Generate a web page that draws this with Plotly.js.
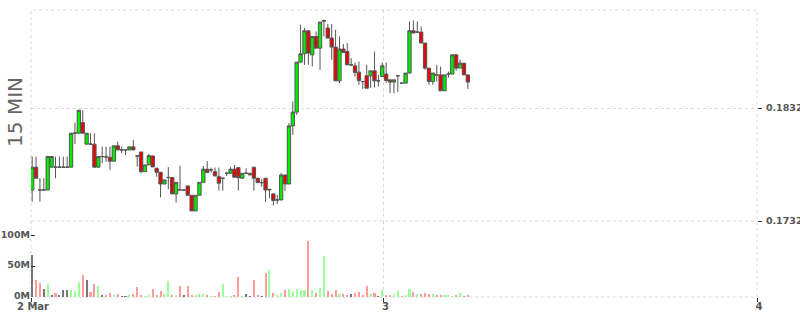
<!DOCTYPE html>
<html>
<head>
<meta charset="utf-8">
<script src="https://cdn.plot.ly/plotly-3.0.1.min.js"></script>
<style>html,body{margin:0;padding:0;background:#fff;}#chart{width:800px;height:315px;}</style>
</head>
<body>
<div id="chart"></div>
<script>
// ---- data ----
const startTime = Date.UTC(2024, 2, 2, 1, 25); // first 15-minute candle
const stepMinutes = 15;

const open = [
0.17595,0.17797,0.17595,0.17595,0.17595,0.17797,0.17797,0.17797,0.17797,0.17797,
0.17797,0.18098,0.18098,0.18192,0.18001,0.18001,0.18001,0.17797,0.17891,0.17888,
0.17885,0.17850,0.17986,0.17950,0.17950,0.17950,0.17977,0.17897,0.17932,0.17757,
0.17817,0.17897,0.17788,0.17752,0.17648,0.17706,0.17706,0.17560,0.17595,0.17595,
0.17631,0.17548,0.17409,0.17548,0.17663,0.17779,0.17773,0.17757,0.17713,0.17699,
0.17743,0.17743,0.17779,0.17793,0.17699,0.17743,0.17728,0.17797,0.17699,0.17660,
0.17699,0.17595,0.17560,0.17506,0.17506,0.17728,0.17648,0.18163,0.18285,0.18728,
0.18802,0.19006,0.18793,0.18955,0.18852,0.19090,0.19030,0.18941,0.18861,0.18562,
0.18844,0.18822,0.18704,0.18695,0.18639,0.18556,0.18607,0.18607,0.18651,0.18562,
0.18600,0.18622,0.18571,0.18551,0.18607,0.18542,0.18542,0.18631,0.19006,0.18994,
0.18994,0.18897,0.18675,0.18556,0.18615,0.18615,0.18474,0.18622,0.18622,0.18793,
0.18675,0.18719,0.18615];

const high = [
0.17891,0.17891,0.17699,0.17699,0.17891,0.17891,0.17891,0.17891,0.17891,0.17891,
0.18098,0.18192,0.18302,0.18302,0.18098,0.18098,0.18098,0.17891,0.17979,0.17977,
0.17979,0.17986,0.18024,0.17979,0.17950,0.17977,0.18039,0.17897,0.17932,0.17817,
0.17915,0.17897,0.17788,0.17752,0.17684,0.17797,0.17706,0.17663,0.17808,0.17595,
0.17631,0.17548,0.17548,0.17663,0.17808,0.17850,0.17793,0.17793,0.17793,0.17699,
0.17757,0.17799,0.17817,0.17793,0.17743,0.17788,0.17743,0.17797,0.17699,0.17690,
0.17699,0.17600,0.17560,0.17551,0.17745,0.17728,0.18187,0.18379,0.18728,0.19059,
0.19030,0.19006,0.18955,0.19000,0.19083,0.19104,0.19068,0.19065,0.19015,0.18955,
0.18888,0.18897,0.18764,0.18725,0.18733,0.18556,0.18704,0.18651,0.18822,0.18615,
0.18725,0.18725,0.18571,0.18571,0.18607,0.18542,0.18631,0.19088,0.19097,0.19088,
0.19044,0.18897,0.18675,0.18631,0.18704,0.18689,0.18615,0.18645,0.18793,0.18793,
0.18749,0.18719,0.18615];

const low = [
0.17491,0.17699,0.17491,0.17595,0.17595,0.17797,0.17699,0.17797,0.17797,0.17797,
0.17797,0.18001,0.18098,0.18098,0.18001,0.18001,0.17797,0.17797,0.17832,0.17845,
0.17773,0.17850,0.17950,0.17921,0.17906,0.17950,0.17950,0.17802,0.17743,0.17757,
0.17817,0.17799,0.17713,0.17529,0.17648,0.17601,0.17560,0.17482,0.17595,0.17595,
0.17548,0.17409,0.17409,0.17548,0.17663,0.17749,0.17749,0.17719,0.17589,0.17589,
0.17719,0.17743,0.17708,0.17589,0.17699,0.17743,0.17728,0.17589,0.17660,0.17624,
0.17491,0.17521,0.17458,0.17471,0.17506,0.17586,0.17648,0.18083,0.18261,0.18728,
0.18704,0.18704,0.18689,0.18852,0.18660,0.18955,0.18941,0.18749,0.18562,0.18542,
0.18813,0.18704,0.18695,0.18600,0.18527,0.18491,0.18497,0.18500,0.18503,0.18512,
0.18600,0.18544,0.18453,0.18453,0.18462,0.18542,0.18542,0.18631,0.18986,0.18986,
0.18897,0.18660,0.18527,0.18527,0.18556,0.18474,0.18474,0.18589,0.18622,0.18651,
0.18675,0.18615,0.18491];

const close = [
0.17797,0.17699,0.17595,0.17595,0.17891,0.17891,0.17797,0.17797,0.17797,0.17797,
0.18098,0.18100,0.18302,0.18098,0.18098,0.18001,0.17797,0.17891,0.17891,0.17888,
0.17850,0.17986,0.17950,0.17950,0.17950,0.17977,0.17950,0.17897,0.17757,0.17817,
0.17899,0.17799,0.17752,0.17648,0.17684,0.17706,0.17560,0.17663,0.17595,0.17595,
0.17548,0.17409,0.17548,0.17663,0.17779,0.17749,0.17773,0.17719,0.17655,0.17699,
0.17743,0.17779,0.17708,0.17704,0.17743,0.17743,0.17743,0.17699,0.17660,0.17660,
0.17595,0.17600,0.17502,0.17506,0.17728,0.17648,0.18163,0.18285,0.18728,0.18802,
0.19006,0.18808,0.18955,0.18852,0.19083,0.19097,0.18941,0.18861,0.18562,0.18844,
0.18813,0.18704,0.18704,0.18636,0.18565,0.18556,0.18497,0.18651,0.18562,0.18562,
0.18695,0.18565,0.18551,0.18571,0.18607,0.18542,0.18631,0.19006,0.18986,0.18994,
0.18897,0.18675,0.18556,0.18631,0.18615,0.18474,0.18615,0.18622,0.18793,0.18675,
0.18719,0.18615,0.18551];

const volumeM = [
68,28,23,13,21,3,6.5,3,11,11,
11,10,24,36,28,8,21,18,3,3,
6.5,3,5,1.5,1.5,3,5,16,3,1.5,
3,13,3,10,5,26,3,3,18,3,
18,3,3,5,5,3,1.5,1.5,8,21,
1.5,1.5,3,33,1.5,5,1.5,28,3,1.5,
39,44,6.5,3,6.5,11,13,8,13,11,
11,91,11,6.5,15,67,10,5,11,5,
5,3,5,6.5,8,3,18,5,6.5,1.5,
11,3,3,3,10,1.5,3,13,8,5,
5,6.5,5,5,3,3,3,3,1.5,3,
6.5,1.5,3];

const xRange = ['2024-03-02 01:20:30', '2024-03-04 00:00'];
const dayTickVals = ['2024-03-02 01:20:30', '2024-03-03 00:00', '2024-03-04 00:00'];
const dayTickText = ['2 Mar', '3', '4'];
const priceTickVals = [0.1732, 0.1832];
const priceTickText = ['0.1732', '0.1832'];
const volTickVals = [0, 50, 100];
const volTickText = ['0M', '50M', '100M'];
const priceRange = [0.1732, 0.19190];
const volRange = [0, 123];
const paneTitle = '15 MIN';

// ---- build ----
function fmt(ms) {
  const d = new Date(ms);
  const p = n => String(n).padStart(2, '0');
  return d.getUTCFullYear() + '-' + p(d.getUTCMonth() + 1) + '-' + p(d.getUTCDate()) +
    ' ' + p(d.getUTCHours()) + ':' + p(d.getUTCMinutes());
}
const times = open.map((_, i) => fmt(startTime + i * stepMinutes * 60000));
const volColors = close.map((c, i) => {
  if (i === 0 || c === close[i - 1]) return '#777777';
  return c > close[i - 1] ? '#9bff9b' : '#ff9b9b';
});

const tickFont = {family: 'DejaVu Sans', size: 9.5, color: '#555', weight: 'bold'};
const gridColor = '#d9d9d9';
const dashStyle = '3px,3px';

const traces = [
  {
    type: 'candlestick', x: times, open: open, high: high, low: low, close: close,
    xaxis: 'x', yaxis: 'y',
    increasing: {line: {color: '#555555', width: 1}, fillcolor: '#00ee00'},
    decreasing: {line: {color: '#555555', width: 1}, fillcolor: '#ee0000'},
    whiskerwidth: 0, hoverinfo: 'none', showlegend: false
  },
  {
    type: 'bar', x: times, y: volumeM, xaxis: 'x', yaxis: 'y2',
    marker: {color: volColors, line: {width: 0}}, width: 480000,
    hoverinfo: 'none', showlegend: false
  }
];

const split = 0.2648;
const layout = {
  width: 800, height: 315,
  margin: {l: 31, r: 43, t: 10, b: 18, pad: 0},
  paper_bgcolor: '#ffffff', plot_bgcolor: '#ffffff',
  showlegend: false,
  boxgap: 0.1, boxgroupgap: 0.05,
  bargap: 0,
  xaxis: {
    type: 'date', range: xRange, anchor: 'y2',
    rangeslider: {visible: false},
    tickmode: 'array', tickvals: dayTickVals, ticktext: dayTickText,
    ticks: 'outside', ticklen: 4, tickcolor: '#333', tickwidth: 1,
    tickfont: {family: 'DejaVu Sans', size: 10, color: '#555', weight: 'bold'},
    ticklabelshift: 2, ticklabelstandoff: -4,
    showgrid: true, gridcolor: gridColor, griddash: dashStyle, gridwidth: 1,
    showline: false, zeroline: false, fixedrange: true
  },
  yaxis: {
    domain: [split, 1], range: priceRange, side: 'right', anchor: 'x',
    tickmode: 'array', tickvals: priceTickVals, ticktext: priceTickText,
    ticks: 'outside', ticklen: 4, tickcolor: '#333', tickwidth: 1,
    tickfont: tickFont, ticklabelstandoff: 2,
    showgrid: true, gridcolor: gridColor, griddash: dashStyle, gridwidth: 1,
    showline: false, zeroline: false, fixedrange: true
  },
  yaxis2: {
    domain: [0, split], range: volRange, side: 'left', anchor: 'x',
    tickmode: 'array', tickvals: volTickVals, ticktext: volTickText,
    ticks: 'inside', ticklen: 4, tickcolor: '#333', tickwidth: 1,
    tickfont: tickFont, ticklabelshift: -1,
    showgrid: false, showline: false, zeroline: false, fixedrange: true
  },
  shapes: [
    {type: 'rect', xref: 'paper', yref: 'paper', x0: 0, x1: 1, y0: 0, y1: 1,
     line: {color: gridColor, width: 1, dash: dashStyle}, layer: 'below'},
    {type: 'line', xref: 'paper', yref: 'paper', x0: 0, x1: 1, y0: split, y1: split,
     line: {color: gridColor, width: 1, dash: dashStyle}, layer: 'below'}
  ],
  annotations: [
    {text: paneTitle, xref: 'paper', yref: 'paper', x: -0.022, y: 0.645,
     xanchor: 'center', yanchor: 'middle', textangle: -90, showarrow: false,
     font: {family: 'DejaVu Sans', size: 20, color: '#666'}}
  ]
};

Plotly.newPlot('chart', traces, layout, {staticPlot: true, displayModeBar: false});
</script>
</body>
</html>
